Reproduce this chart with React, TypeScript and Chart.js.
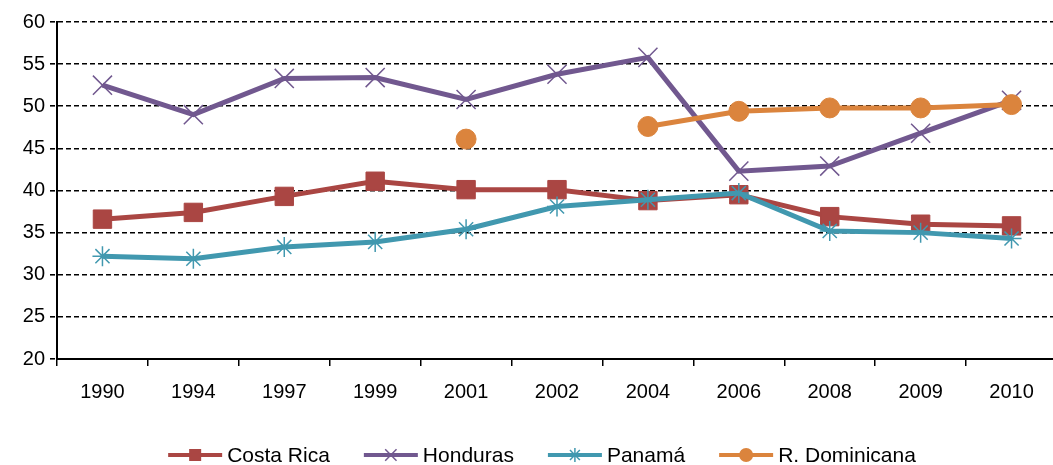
import React, { useEffect, useRef } from "react";
import { Chart, registerables } from "chart.js";

Chart.register(...registerables);

const years = ["1990", "1994", "1997", "1999", "2001", "2002", "2004", "2006", "2008", "2009", "2010"];
const costaRica = [36.6, 37.4, 39.3, 41.1, 40.1, 40.1, 38.8, 39.5, 36.9, 36.0, 35.8];
const honduras = [52.5, 49.0, 53.3, 53.4, 50.8, 53.8, 55.8, 42.3, 42.9, 46.8, 50.7];
const panama = [32.2, 31.9, 33.3, 33.9, 35.4, 38.1, 38.9, 39.7, 35.2, 35.0, 34.3];
const rDominicana = [null, null, null, null, 46.1, null, 47.6, 49.4, 49.8, 49.8, 50.2];
const yTicks = [20, 25, 30, 35, 40, 45, 50, 55, 60];

const seriesNames = ["Costa Rica", "Honduras", "Panamá", "R. Dominicana"];
const seriesColors = ["#AA4643", "#71588F", "#4198AF", "#DB843D"];
const seriesStyles = ["rect", "crossRot", "star", "circle"];

const FONT = "'Liberation Sans', Arial, sans-serif";

function drawMarker(ctx: CanvasRenderingContext2D, style: string, x: number, y: number, r: number, color: string) {
  ctx.save();
  ctx.fillStyle = color;
  ctx.strokeStyle = color;
  ctx.lineWidth = 1.5;
  ctx.beginPath();
  if (style === "rect") {
    const s = r * Math.SQRT1_2;
    ctx.rect(x - s, y - s, 2 * s, 2 * s);
    ctx.fill();
  } else if (style === "circle") {
    ctx.arc(x, y, r, 0, Math.PI * 2);
    ctx.fill();
  } else if (style === "crossRot") {
    const d = r * Math.SQRT1_2;
    ctx.moveTo(x - d, y - d);
    ctx.lineTo(x + d, y + d);
    ctx.moveTo(x - d, y + d);
    ctx.lineTo(x + d, y - d);
    ctx.stroke();
  } else if (style === "star") {
    const d = r * Math.SQRT1_2;
    ctx.moveTo(x - d, y - d);
    ctx.lineTo(x + d, y + d);
    ctx.moveTo(x - d, y + d);
    ctx.lineTo(x + d, y - d);
    ctx.moveTo(x, y - r);
    ctx.lineTo(x, y + r);
    ctx.moveTo(x - r, y);
    ctx.lineTo(x + r, y);
    ctx.stroke();
  }
  ctx.restore();
}

const legendPlugin = {
  id: "customLegend",
  afterDraw(chart: any) {
    const ctx: CanvasRenderingContext2D = chart.ctx;
    ctx.save();
    ctx.font = `21px ${FONT}`;
    const lineLen = 54;
    const gapText = 5;
    const gapItem = 34;
    const widths = seriesNames.map((n) => ctx.measureText(n).width);
    const total = widths.reduce((a, w) => a + lineLen + gapText + w, 0) + gapItem * (seriesNames.length - 1);
    let x = 542 - total / 2;
    const y = 455;
    const legendRadii = [8.5, 8, 7, 7];
    seriesNames.forEach((name, i) => {
      ctx.strokeStyle = seriesColors[i];
      ctx.lineWidth = 4;
      ctx.beginPath();
      ctx.moveTo(x, y);
      ctx.lineTo(x + lineLen, y);
      ctx.stroke();
      drawMarker(ctx, seriesStyles[i], x + lineLen / 2, y, legendRadii[i], seriesColors[i]);
      ctx.fillStyle = "#000";
      ctx.textBaseline = "middle";
      ctx.textAlign = "left";
      ctx.fillText(name, x + lineLen + gapText, y + 1);
      x += lineLen + gapText + widths[i] + gapItem;
    });
    ctx.restore();
  },
};

export default function App() {
  const ref = useRef<HTMLCanvasElement>(null);
  useEffect(() => {
    if (!ref.current) return;
    const dataArrays = [costaRica, honduras, panama, rDominicana];
    const radii = [13, 13.5, 10, 10];
    const chart = new Chart(ref.current, {
      type: "line",
      data: {
        labels: years,
        datasets: dataArrays.map((d, i) => ({
          label: seriesNames[i],
          data: d,
          borderColor: seriesColors[i],
          backgroundColor: seriesColors[i],
          borderWidth: 5,
          pointStyle: seriesStyles[i] as any,
          pointRadius: radii[i],
          pointBorderWidth: i === 1 || i === 2 ? 1.5 : 1,
          pointBackgroundColor: seriesColors[i],
          pointBorderColor: seriesColors[i],
          spanGaps: false,
          tension: 0,
          order: 4 - i,
        })),
      },
      options: {
        responsive: false,
        animation: false,
        devicePixelRatio: 1,
        layout: { padding: { top: 22, left: 0, right: 5, bottom: 56 } },
        plugins: { legend: { display: false }, tooltip: { enabled: false } },
        scales: {
          x: {
            offset: true,
            grid: {
              offset: true,
              drawOnChartArea: false,
              drawTicks: true,
              tickLength: 7,
              color: "#000",
              lineWidth: 1.5,
            },
            border: { display: true, color: "#000", width: 2 },
            ticks: { color: "#000", font: { family: FONT, size: 20 }, padding: 14, maxRotation: 0, autoSkip: false },
            afterFit(scale: any) {
              scale.height = 50;
            },
          },
          y: {
            min: 20,
            max: 60,
            afterBuildTicks(scale: any) {
              scale.ticks = yTicks.map((v) => ({ value: v }));
            },
            grid: {
              color: (c: any) => (c.tick && c.tick.value === 20 ? "rgba(0,0,0,0)" : "#000"),
              lineWidth: 1.6,
              tickLength: 7,
              tickColor: "#000",
              tickBorderDash: [5, 3],
            },
            border: { display: true, color: "#000", width: 2, dash: [5, 3] },
            ticks: { color: "#000", font: { family: FONT, size: 20 }, padding: 5 },
            afterFit(scale: any) {
              scale.width = 57;
            },
          },
        },
      },
      plugins: [legendPlugin],
    });
    return () => chart.destroy();
  }, []);
  return (
    <div style={{ position: "absolute", left: 0, top: 0, width: 1053, height: 465, overflow: "hidden", background: "#fff" }}>
      <canvas ref={ref} width={1072} height={465} style={{ display: "block", width: 1072, height: 465 }} />
    </div>
  );
}
